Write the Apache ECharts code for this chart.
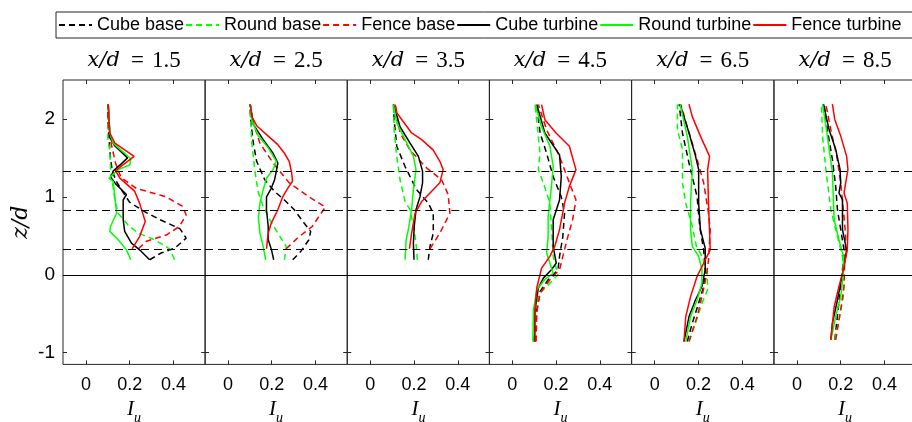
<!DOCTYPE html>
<html><head><meta charset="utf-8">
<script src="https://cdn.jsdelivr.net/npm/echarts@6/dist/echarts.min.js"></script>
<style>html,body{margin:0;padding:0;background:#fff}#c{width:912px;height:422px}</style>
</head><body><div id="c"></div>
<script>
// ---------- data ----------
const stations = ['1.5', '2.5', '3.5', '4.5', '6.5', '8.5'];
const seriesNames = ['Cube base', 'Round base', 'Fence base', 'Cube turbine', 'Round turbine', 'Fence turbine'];
const xTicks = [0, 0.2, 0.4];
const yTicks = [-1, 0, 1, 2];
const refLevelsDashed = [1 / 3, 5 / 6, 4 / 3];
const refLevelsSolid = [0];

// each entry: one station (x/d), list of [I_u, z/d]
const cubeBase = [
  [[0.291,0.193],[0.344,0.28],[0.405,0.34],[0.458,0.47],[0.43,0.59],[0.344,0.70],[0.268,0.81],[0.2,0.93],[0.162,1.09],[0.139,1.2],[0.12,1.33],[0.112,1.5],[0.105,1.75],[0.1,2.0],[0.1,2.185]],
  [[0.296,0.193],[0.333,0.30],[0.37,0.45],[0.378,0.557],[0.348,0.664],[0.303,0.835],[0.258,0.96],[0.213,1.07],[0.168,1.22],[0.131,1.457],[0.116,1.69],[0.105,1.95],[0.1,2.185]],
  [[0.265,0.193],[0.273,0.364],[0.288,0.535],[0.288,0.79],[0.265,0.92],[0.212,1.09],[0.159,1.39],[0.121,1.65],[0.109,1.99],[0.106,2.185]],
  [[0.104,-0.857],[0.112,-0.45],[0.127,-0.214],[0.164,-0.064],[0.209,0.064],[0.216,0.236],[0.231,0.49],[0.239,0.79],[0.224,1.0],[0.187,1.26],[0.157,1.56],[0.127,1.82],[0.112,2.185]],
  [[0.149,-0.857],[0.172,-0.62],[0.201,-0.364],[0.224,-0.15],[0.231,0.064],[0.224,0.32],[0.206,0.62],[0.194,1.0],[0.157,1.435],[0.127,1.82],[0.112,2.19]],
  [[0.173,-0.835],[0.188,-0.45],[0.2,-0.15],[0.208,0.064],[0.215,0.32],[0.2,0.58],[0.185,0.835],[0.177,1.135],[0.162,1.48],[0.139,1.86],[0.124,2.19]]
];
const roundBase = [
  [[0.405,0.193],[0.382,0.334],[0.314,0.45],[0.238,0.535],[0.192,0.64],[0.147,0.79],[0.132,0.96],[0.124,1.135],[0.114,1.24],[0.112,1.4],[0.109,1.585],[0.1,1.75],[0.1,2.0],[0.1,2.185]],
  [[0.258,0.193],[0.266,0.364],[0.228,0.535],[0.191,0.707],[0.161,0.88],[0.139,1.05],[0.124,1.31],[0.109,1.69],[0.1,2.185]],
  [[0.215,0.19],[0.209,0.41],[0.197,0.62],[0.182,0.835],[0.159,0.94],[0.136,1.22],[0.121,1.52],[0.109,1.86],[0.106,2.185]],
  [[0.097,-0.857],[0.104,-0.45],[0.127,-0.236],[0.172,-0.107],[0.209,0.0],[0.187,0.236],[0.179,0.62],[0.172,0.92],[0.142,1.18],[0.119,1.35],[0.127,1.56],[0.119,1.78],[0.104,2.185]],
  [[0.157,-0.857],[0.187,-0.62],[0.216,-0.364],[0.242,-0.19],[0.239,0.064],[0.209,0.28],[0.191,0.364],[0.172,0.62],[0.142,0.92],[0.127,1.18],[0.127,1.61],[0.104,1.86],[0.104,2.185]],
  [[0.173,-0.835],[0.192,-0.58],[0.212,-0.28],[0.215,-0.02],[0.208,0.236],[0.185,0.49],[0.155,0.835],[0.132,1.35],[0.117,1.78],[0.112,2.19]]
];
const fenceBase = [
  [[0.24,0.334],[0.276,0.43],[0.367,0.51],[0.427,0.62],[0.458,0.77],[0.44,0.88],[0.367,1.0],[0.23,1.11],[0.16,1.25],[0.135,1.435],[0.125,1.56],[0.11,1.75],[0.1,2.0],[0.1,2.185]],
  [[0.266,0.334],[0.325,0.49],[0.385,0.62],[0.445,0.87],[0.37,1.0],[0.28,1.18],[0.206,1.435],[0.146,1.69],[0.116,1.95],[0.1,2.185]],
  [[0.273,0.334],[0.318,0.535],[0.364,0.79],[0.356,1.03],[0.326,1.22],[0.258,1.37],[0.182,1.6],[0.136,1.82],[0.114,2.185]],
  [[0.109,-0.857],[0.112,-0.49],[0.127,-0.236],[0.172,-0.064],[0.216,0.064],[0.231,0.236],[0.254,0.49],[0.276,0.707],[0.291,0.964],[0.261,1.18],[0.216,1.52],[0.157,1.86],[0.119,2.185]],
  [[0.157,-0.857],[0.194,-0.536],[0.216,-0.28],[0.236,-0.02],[0.246,0.19],[0.254,0.58],[0.246,0.79],[0.224,1.18],[0.194,1.48],[0.149,1.9],[0.119,2.19]],
  [[0.177,-0.835],[0.2,-0.45],[0.215,-0.15],[0.218,0.15],[0.223,0.49],[0.212,0.835],[0.2,1.18],[0.182,1.52],[0.155,1.86],[0.132,2.19]]
];
const cubeTurbine = [
  [[0.102,2.185],[0.109,1.76],[0.13,1.66],[0.19,1.5],[0.16,1.42],[0.124,1.33],[0.114,1.25],[0.135,1.17],[0.185,1.03],[0.17,0.96],[0.17,0.71],[0.177,0.557],[0.208,0.407],[0.253,0.30],[0.291,0.193]],
  [[0.102,2.185],[0.116,1.93],[0.161,1.735],[0.206,1.56],[0.228,1.435],[0.221,1.33],[0.213,1.22],[0.198,1.11],[0.176,1.0],[0.176,0.835],[0.184,0.62],[0.184,0.45],[0.199,0.32],[0.209,0.193]],
  [[0.106,2.185],[0.136,1.9],[0.182,1.69],[0.22,1.52],[0.239,1.33],[0.239,1.18],[0.227,1.0],[0.209,0.835],[0.201,0.62],[0.197,0.407],[0.2,0.193]],
  [[0.112,2.185],[0.149,1.82],[0.216,1.54],[0.224,1.26],[0.216,0.96],[0.187,0.707],[0.187,0.364],[0.201,0.15],[0.179,0.064],[0.142,-0.043],[0.119,-0.17],[0.104,-0.45],[0.101,-0.857]],
  [[0.116,2.19],[0.157,1.82],[0.187,1.52],[0.201,1.35],[0.201,0.92],[0.209,0.58],[0.231,0.343],[0.231,0.064],[0.216,-0.15],[0.187,-0.32],[0.157,-0.536],[0.134,-0.857]],
  [[0.121,2.19],[0.147,1.86],[0.177,1.61],[0.197,1.35],[0.2,1.18],[0.192,1.05],[0.208,0.964],[0.208,0.58],[0.227,0.32],[0.215,0.107],[0.2,-0.107],[0.182,-0.364],[0.162,-0.62],[0.155,-0.835]]
];
const roundTurbine = [
  [[0.102,2.185],[0.109,1.82],[0.124,1.69],[0.205,1.49],[0.2,1.41],[0.147,1.35],[0.105,1.24],[0.124,1.2],[0.132,1.0],[0.14,0.79],[0.112,0.62],[0.109,0.557],[0.147,0.45],[0.185,0.32],[0.205,0.193]],
  [[0.102,2.185],[0.109,1.99],[0.139,1.78],[0.184,1.63],[0.221,1.457],[0.206,1.35],[0.176,1.24],[0.161,1.09],[0.146,0.92],[0.139,0.73],[0.146,0.535],[0.161,0.364],[0.172,0.193]],
  [[0.106,2.185],[0.121,1.95],[0.159,1.735],[0.197,1.52],[0.209,1.35],[0.197,1.09],[0.189,0.835],[0.174,0.58],[0.164,0.45],[0.159,0.193]],
  [[0.104,2.185],[0.134,1.9],[0.172,1.65],[0.187,1.39],[0.179,1.135],[0.164,0.75],[0.164,0.49],[0.157,0.28],[0.187,0.02],[0.149,-0.06],[0.112,-0.19],[0.097,-0.45],[0.094,-0.857]],
  [[0.116,2.19],[0.149,1.78],[0.172,1.35],[0.164,0.92],[0.164,0.58],[0.172,0.364],[0.201,0.236],[0.216,0.064],[0.216,-0.107],[0.194,-0.32],[0.164,-0.536],[0.142,-0.857]],
  [[0.117,2.19],[0.139,1.78],[0.162,1.31],[0.17,0.707],[0.192,0.45],[0.212,0.236],[0.212,0.02],[0.2,-0.28],[0.177,-0.536],[0.155,-0.835]]
];
const fenceTurbine = [
  [[0.102,2.185],[0.109,1.82],[0.132,1.69],[0.22,1.52],[0.135,1.337],[0.155,1.24],[0.223,1.07],[0.245,0.92],[0.271,0.685],[0.245,0.49],[0.211,0.334]],
  [[0.102,2.185],[0.109,2.03],[0.132,1.91],[0.184,1.78],[0.228,1.67],[0.258,1.56],[0.28,1.457],[0.291,1.31],[0.295,1.2],[0.273,1.11],[0.25,1.0],[0.228,0.835],[0.198,0.664],[0.184,0.535],[0.176,0.334]],
  [[0.114,2.185],[0.121,2.08],[0.189,1.82],[0.235,1.735],[0.288,1.6],[0.318,1.457],[0.333,1.35],[0.318,1.18],[0.273,1.05],[0.235,0.94],[0.205,0.79],[0.189,0.535],[0.179,0.334]],
  [[0.134,2.185],[0.149,1.99],[0.2,1.82],[0.261,1.65],[0.291,1.35],[0.261,1.135],[0.239,0.92],[0.216,0.58],[0.194,0.364],[0.172,0.236],[0.134,0.086],[0.112,-0.17],[0.104,-0.45],[0.104,-0.857]],
  [[0.157,2.19],[0.172,2.03],[0.209,1.78],[0.251,1.52],[0.242,1.35],[0.246,0.92],[0.254,0.32],[0.231,0.19],[0.194,-0.02],[0.164,-0.28],[0.142,-0.536],[0.134,-0.857]],
  [[0.162,2.19],[0.173,1.99],[0.2,1.78],[0.227,1.52],[0.233,1.35],[0.215,1.05],[0.23,0.92],[0.233,0.58],[0.23,0.32],[0.212,0.064],[0.192,-0.15],[0.17,-0.41],[0.155,-0.835]]
];

// ---------- layout / style ----------
const profiles = [cubeBase, roundBase, fenceBase, cubeTurbine, roundTurbine, fenceTurbine];
const colors = ['#000000', '#00ff00', '#ff0000', '#000000', '#00ff00', '#ff0000'];
const isDashed = [true, true, true, false, false, false];
const panelLeft = [63, 205, 347.3, 489.3, 631.7, 774];
const panelWidth = 142.2, panelTop = 80, panelHeight = 284.4;
const axisCol = '#262626';
const sans = 'Liberation Sans';
const serif = 'Liberation Serif';
const mathItalic = 'DejaVu Serif';

const grids = [], xAxes = [], yAxes = [], series = [];
stations.forEach((st, p) => {
  grids.push({left: panelLeft[p], top: panelTop, width: panelWidth, height: panelHeight,
    show: true, borderColor: axisCol, borderWidth: 1, backgroundColor: 'transparent',
    containLabel: false, outerBoundsMode: 'none'});
  const xBase = {type: 'value', gridIndex: p, min: -0.105, max: 0.545,
    axisLine: {show: false, onZero: false}, splitLine: {show: false},
    axisTick: {show: true, inside: true, length: 4, customValues: xTicks, lineStyle: {color: axisCol}}};
  xAxes.push(Object.assign({}, xBase, {position: 'bottom',
    axisLabel: {show: true, customValues: xTicks, margin: 12, color: '#000', fontFamily: sans, fontSize: 18,
      formatter: v => (Math.abs(v) < 1e-9 ? '0' : String(+v.toFixed(1)))},
    name: '{i|I}{s|u}', nameLocation: 'middle', nameGap: 35,
    nameTextStyle: {rich: {
      i: {fontFamily: serif, fontStyle: 'italic', fontSize: 21, color: '#000', verticalAlign: 'top', padding: [0, 0, 5, 0]},
      s: {fontFamily: serif, fontStyle: 'italic', fontSize: 14, color: '#000', verticalAlign: 'bottom'}}}}));
  xAxes.push(Object.assign({}, xBase, {position: 'top', axisLabel: {show: false},
    name: '{i|x/d}{e|=}{n|' + st + '}', nameLocation: 'middle', nameGap: 8,
    nameTextStyle: {rich: {
      i: {fontFamily: mathItalic, fontStyle: 'italic', fontSize: 21, color: '#000'},
      e: {fontFamily: serif, fontSize: 23, color: '#000', padding: [0, 8, 0, 11]},
      n: {fontFamily: serif, fontSize: 23, color: '#000'}}}}));
  const yBase = {type: 'value', gridIndex: p, min: -1.15, max: 2.5,
    axisLine: {show: false, onZero: false}, splitLine: {show: false},
    axisTick: {show: true, inside: true, length: 4, customValues: yTicks, lineStyle: {color: axisCol}}};
  yAxes.push(Object.assign({}, yBase, {position: 'left',
    axisLabel: {show: p === 0, customValues: yTicks, margin: 8, color: '#000', fontFamily: sans, fontSize: 19},
    name: p === 0 ? 'z/d' : '', nameLocation: 'middle', nameGap: 31, nameRotate: 90,
    nameTextStyle: {fontFamily: mathItalic, fontStyle: 'italic', fontSize: 22, color: '#000'}}));
  yAxes.push(Object.assign({}, yBase, {position: 'right', axisLabel: {show: false}}));

  profiles.forEach((prof, s) => {
    const ser = {type: 'line', name: seriesNames[s], xAxisIndex: 2 * p, yAxisIndex: 2 * p,
      data: prof[p], symbol: 'none', showSymbol: false, animation: false,
      lineStyle: {color: colors[s], width: 1.5, type: isDashed[s] ? [6, 4] : 'solid'},
      itemStyle: {color: colors[s]}};
    if (s === 0) {
      ser.markLine = {silent: true, symbol: ['none', 'none'], animation: false, label: {show: false},
        lineStyle: {color: '#000', width: 1},
        data: refLevelsDashed.map(v => ({yAxis: v, lineStyle: {type: [8, 5], color: '#000', width: 1}}))
          .concat(refLevelsSolid.map(v => ({yAxis: v, lineStyle: {type: 'solid', color: '#000', width: 1}})))};
    }
    series.push(ser);
  });
});

const chart = echarts.init(document.getElementById('c'), null, {renderer: 'canvas'});
chart.setOption({
  animation: false,
  backgroundColor: '#fff',
  legend: {data: seriesNames, left: 56, top: 12, width: 900, orient: 'horizontal', selectedMode: false,
    itemWidth: 33, itemHeight: 12, itemGap: 1, padding: [4, 32, 4, 2],
    borderColor: axisCol, borderWidth: 1, backgroundColor: '#fff',
    itemStyle: {opacity: 0, borderWidth: 0},
    textStyle: {fontFamily: sans, fontSize: 18, color: '#000'}},
  grid: grids, xAxis: xAxes, yAxis: yAxes, series: series
});
</script></body></html>
